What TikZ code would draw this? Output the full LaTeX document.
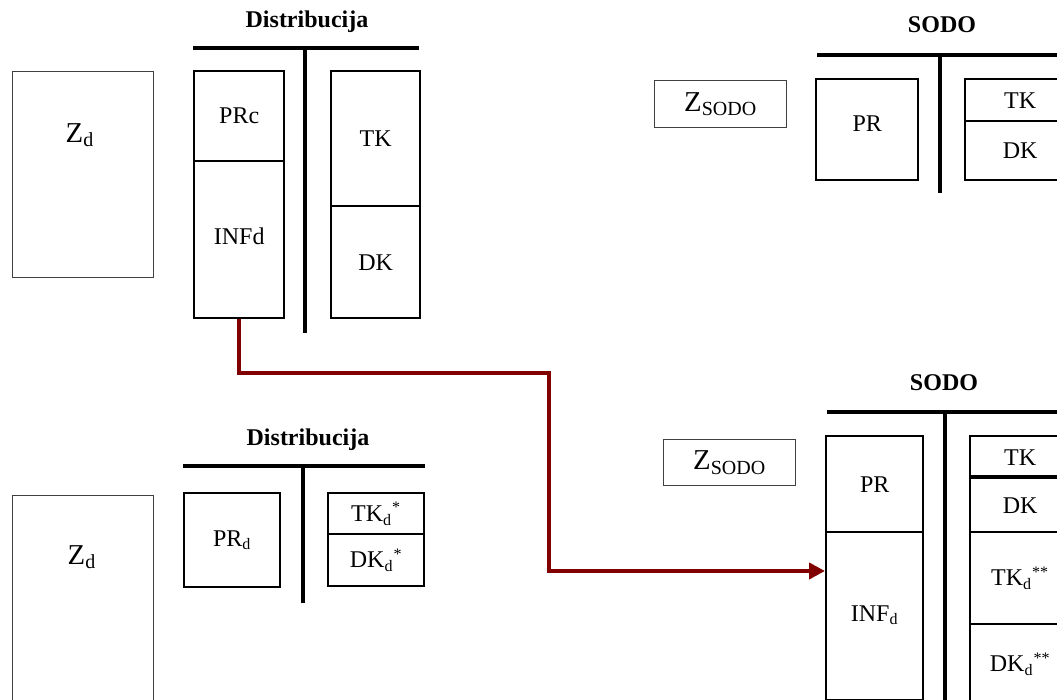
\documentclass[tikz,border=0pt]{standalone}
\usepackage{fontspec}
\setmainfont{Liberation Serif}
\usetikzlibrary{arrows.meta}

\tikzset{
  cell/.style={draw, line width=1.2pt, inner sep=0pt, anchor=north west, font=\large},
  zbox/.style={draw=black!75, line width=0.7pt, inner sep=0pt, anchor=north west},
  zlabel/.style={font=\Large},
  heading/.style={font=\large\bfseries},
  bar/.style={line width=1.7pt},
  flow/.style={draw=red!50!black, line width=2.2pt, -{Triangle[length=8pt,width=8pt]}}
}

\begin{document}
\begin{tikzpicture}[x=0.5pt,y=-0.5pt]
  \clip (0,0) rectangle (1057,700);

  % Distribution, before
  \node[zbox, minimum width=70.5pt, minimum height=103pt] (zd) at (12,71) {};
  \node[zlabel] (zdtext) at (80,135) {Z\textsubscript{d}};
  \node[heading] (dist) at (307,22) {Distribucija};
  \draw[bar] (193,48) -- (419,48);
  \draw[bar] (305,48) -- (305,333);
  \node[cell, minimum width=45pt, minimum height=45pt] (prc) at (193,70) {PRc};
  \node[cell, minimum width=45pt, minimum height=78.5pt] (infd) at (193,160) {\raisebox{4pt}{INFd}};
  \node[cell, minimum width=44.5pt, minimum height=67.5pt] (tk) at (330,70) {TK};
  \node[cell, minimum width=44.5pt, minimum height=56pt] (dk) at (330,205) {DK};

  % SODO, before
  \node[zbox, minimum width=66pt, minimum height=23.5pt, zlabel] (zsodo) at (654,80) {Z\textsubscript{SODO}};
  \node[heading] (sodo) at (942,25) {SODO};
  \draw[bar] (817,55) -- (1060,55);
  \draw[bar] (940,55) -- (940,193);
  \node[cell, minimum width=51pt, minimum height=50.5pt] (pr) at (815,78) {\raisebox{6pt}{PR}};
  \node[cell, minimum width=55pt, minimum height=21pt] (tks) at (964,78) {TK};
  \node[cell, minimum width=55pt, minimum height=29.5pt] (dks) at (964,120) {DK};

  % Distribution, after
  \node[zbox, minimum width=70.5pt, minimum height=110pt] (zdb) at (12,495) {};
  \node[zlabel] (zdbtext) at (82,557) {Z\textsubscript{d}};
  \node[heading] (distb) at (308,440) {Distribucija};
  \draw[bar] (183,466) -- (425,466);
  \draw[bar] (303,466) -- (303,603);
  \node[cell, minimum width=48pt, minimum height=47pt] (prd) at (183,492) {PR\textsubscript{d}};
  \node[cell, minimum width=48pt, minimum height=20.5pt] (tkd) at (327,492) {TK\textsubscript{d}\textsuperscript{*}};
  \node[cell, minimum width=48pt, minimum height=26pt] (dkd) at (327,533) {DK\textsubscript{d}\textsuperscript{*}};

  % SODO, after
  \node[zbox, minimum width=66pt, minimum height=23pt, zlabel] (zsodob) at (663,439) {Z\textsubscript{SODO}};
  \node[heading] (sodob) at (944,383) {SODO};
  \draw[bar] (827,412) -- (1060,412);
  \draw[bar] (945,412) -- (945,705);
  \node[cell, minimum width=48.5pt, minimum height=48pt] (prb) at (825,435) {PR};
  \node[cell, minimum width=48.5pt, minimum height=84pt] (infdb) at (825,531) {\raisebox{3pt}{INF\textsubscript{d}}};
  \node[cell, minimum width=50pt, minimum height=21pt] (tkb) at (969,435) {TK};
  \node[cell, minimum width=50pt, minimum height=27pt] (dkb) at (969,477) {DK};
  \node[cell, minimum width=50pt, minimum height=46pt] (tkdb) at (969,531) {TK\textsubscript{d}\textsuperscript{**}};
  \node[cell, minimum width=50pt, minimum height=40pt] (dkdb) at (969,623) {DK\textsubscript{d}\textsuperscript{**}};
  \draw[bar] (dkb.north west) -- (dkb.north east);

  % transfer of the fixed assets
  \coordinate (bendA) at (549,373);
  \coordinate (bendB) at (549,571);
  \draw[flow] (infd.south) |- (bendA) -- (bendB) -- (bendB -| infdb.west);
\end{tikzpicture}
\end{document}
